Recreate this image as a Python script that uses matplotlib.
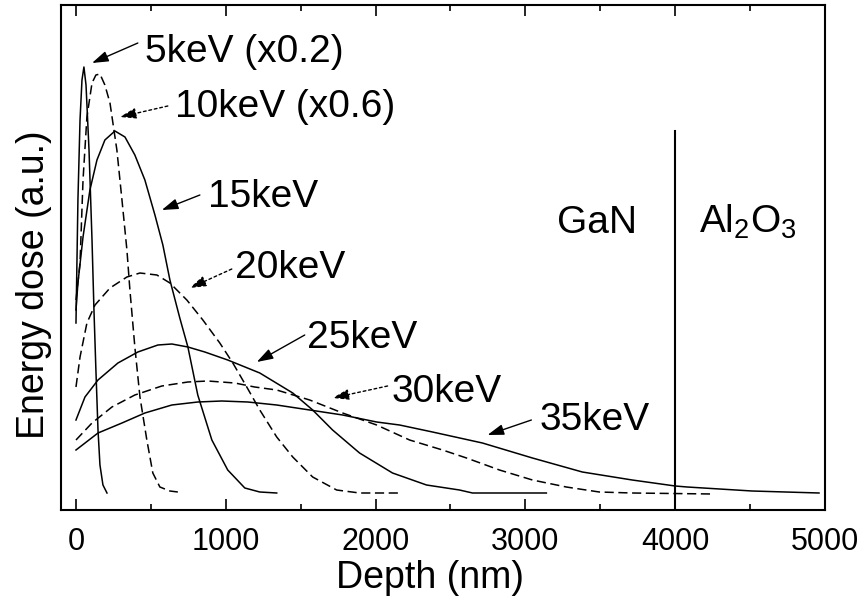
import matplotlib
matplotlib.use("Agg")
from matplotlib import pyplot as plt
from matplotlib.ticker import MultipleLocator

plt.rcParams['font.family'] = ['Liberation Sans', 'DejaVu Sans']
plt.rcParams['mathtext.fontset'] = 'custom'
plt.rcParams['mathtext.rm'] = 'Liberation Sans'

# depth (nm) / dose (a.u.) for each beam energy
d5 = [0, 13, 27, 40, 53, 67, 87, 107, 120, 133, 147, 160, 180, 207]
e5 = [1.70, 2.93, 3.73, 4.13, 4.26, 4.08, 3.43, 2.53, 1.83, 1.23, 0.63, 0.28, 0.08, 0.00]

d10 = [0, 27, 47, 73, 107, 133, 160, 193, 227, 273, 307, 340, 360, 393, 427, 473, 513, 560, 627, 680]
e10 = [1.93, 2.30, 3.13, 3.76, 4.10, 4.18, 4.19, 4.08, 3.90, 3.43, 2.93, 2.43, 2.03, 1.46, 0.96, 0.53, 0.20, 0.06, 0.02, 0.01]

d15 = [0, 13, 47, 93, 140, 193, 260, 327, 393, 460, 527, 580, 627, 693, 747, 813, 907, 1013, 1127, 1227, 1340]
e15 = [1.83, 2.10, 2.56, 3.03, 3.33, 3.53, 3.62, 3.56, 3.38, 3.13, 2.78, 2.48, 2.13, 1.75, 1.46, 0.98, 0.53, 0.23, 0.05, 0.01, 0.00]

d20 = [0, 27, 73, 127, 227, 340, 427, 540, 627, 740, 847, 960, 1047, 1140, 1227, 1340, 1447, 1580, 1740, 1893, 2160]
e20 = [1.06, 1.36, 1.70, 1.88, 2.05, 2.16, 2.20, 2.18, 2.10, 1.93, 1.73, 1.50, 1.30, 1.06, 0.83, 0.56, 0.36, 0.16, 0.03, 0.00, 0.00]

d25 = [0, 60, 147, 280, 413, 547, 640, 747, 860, 1013, 1227, 1447, 1580, 1713, 1893, 2113, 2340, 2560, 2647, 3140]
e25 = [0.73, 0.96, 1.13, 1.30, 1.41, 1.48, 1.49, 1.46, 1.41, 1.33, 1.20, 1.00, 0.83, 0.63, 0.40, 0.20, 0.08, 0.03, 0.00, 0.00]

d30 = [0, 107, 240, 393, 573, 747, 880, 1060, 1193, 1340, 1560, 1780, 2007, 2227, 2447, 2607, 2827, 3047, 3273, 3493, 3713, 4247]
e30 = [0.53, 0.70, 0.86, 0.98, 1.07, 1.11, 1.12, 1.10, 1.06, 1.03, 0.93, 0.80, 0.68, 0.53, 0.43, 0.35, 0.23, 0.13, 0.06, 0.01, 0.00, -0.01]

d35 = [0, 147, 307, 460, 640, 813, 973, 1147, 1340, 1560, 1780, 2007, 2160, 2380, 2713, 3047, 3380, 3713, 4000, 4080, 4513, 4960]
e35 = [0.43, 0.60, 0.70, 0.80, 0.88, 0.91, 0.92, 0.91, 0.88, 0.83, 0.78, 0.71, 0.68, 0.61, 0.50, 0.35, 0.21, 0.13, 0.07, 0.06, 0.02, 0.00]

interface = 4000

fig = plt.figure(figsize=(8.68, 6.03), dpi=100)
ax = fig.add_axes([61/868, 93/603, 764/868, 505/603])

lw = 1.1
dash = (0, (6, 3))
ax.plot(d5, e5, color='black', lw=lw)
ax.plot(d10, e10, color='black', lw=lw, linestyle=dash)
ax.plot(d15, e15, color='black', lw=lw)
ax.plot(d20, e20, color='black', lw=lw, linestyle=dash)
ax.plot(d25, e25, color='black', lw=lw)
ax.plot(d30, e30, color='black', lw=lw, linestyle=dash)
ax.plot(d35, e35, color='black', lw=lw)

ax.plot([interface, interface], [-0.17, 3.62], color='black', lw=1.5)

# labels with arrows: (text, text pos, arrow tail, arrow tip, dotted?)
labels = [
    ('5keV (x0.2)', (460, 4.31), (413, 4.50), (107, 4.30), False),
    ('10keV (x0.6)', (660, 3.76), (613, 3.87), (293, 3.76), True),
    ('15keV', (880, 2.86), (827, 2.98), (573, 2.83), False),
    ('20keV', (1060, 2.15), (1040, 2.24), (760, 2.05), True),
    ('25keV', (1540, 1.45), (1527, 1.58), (1207, 1.31), False),
    ('30keV', (2107, 0.91), (2080, 1.07), (1713, 0.95), True),
    ('35keV', (3093, 0.63), (3040, 0.73), (2747, 0.58), False),
]
for txt, pos, tail, tip, dotted in labels:
    ax.text(pos[0], pos[1], txt, fontsize=28, ha='left', va='baseline')
    ax.annotate('', xy=tip, xytext=tail,
                arrowprops=dict(arrowstyle='-|>,head_length=0.55,head_width=0.18',
                                mutation_scale=18, color='black', lw=1.0,
                                linestyle=(0, (2, 2)) if dotted else '-',
                                shrinkA=0, shrinkB=0))

ax.text(3213, 2.60, 'GaN', fontsize=28, ha='left', va='baseline')
ax.text(4160, 2.60, r'Al$_{\mathrm{2}}$O$_{\mathrm{3}}$', fontsize=28, ha='left', va='baseline')

ax.set_xlim(-100, 5000)
ax.set_ylim(-0.17, 4.88)
ax.set_xticks(range(0, 5001, 1000))
ax.xaxis.set_minor_locator(MultipleLocator(500))
ax.set_yticks([])
ax.tick_params(axis='x', which='both', direction='in', top=True, width=1.2, labelsize=22, pad=12)
ax.tick_params(axis='x', which='major', length=8)
ax.tick_params(axis='x', which='minor', length=4.5)
for s in ax.spines.values():
    s.set_linewidth(1.5)

ax.set_xlabel('Depth (nm)', fontsize=27)
ax.xaxis.set_label_coords(0.483, -0.10)
ax.set_ylabel('Energy dose (a.u.)', fontsize=27)
ax.yaxis.set_label_coords(-0.012, 0.446)

plt.savefig('out.png')
